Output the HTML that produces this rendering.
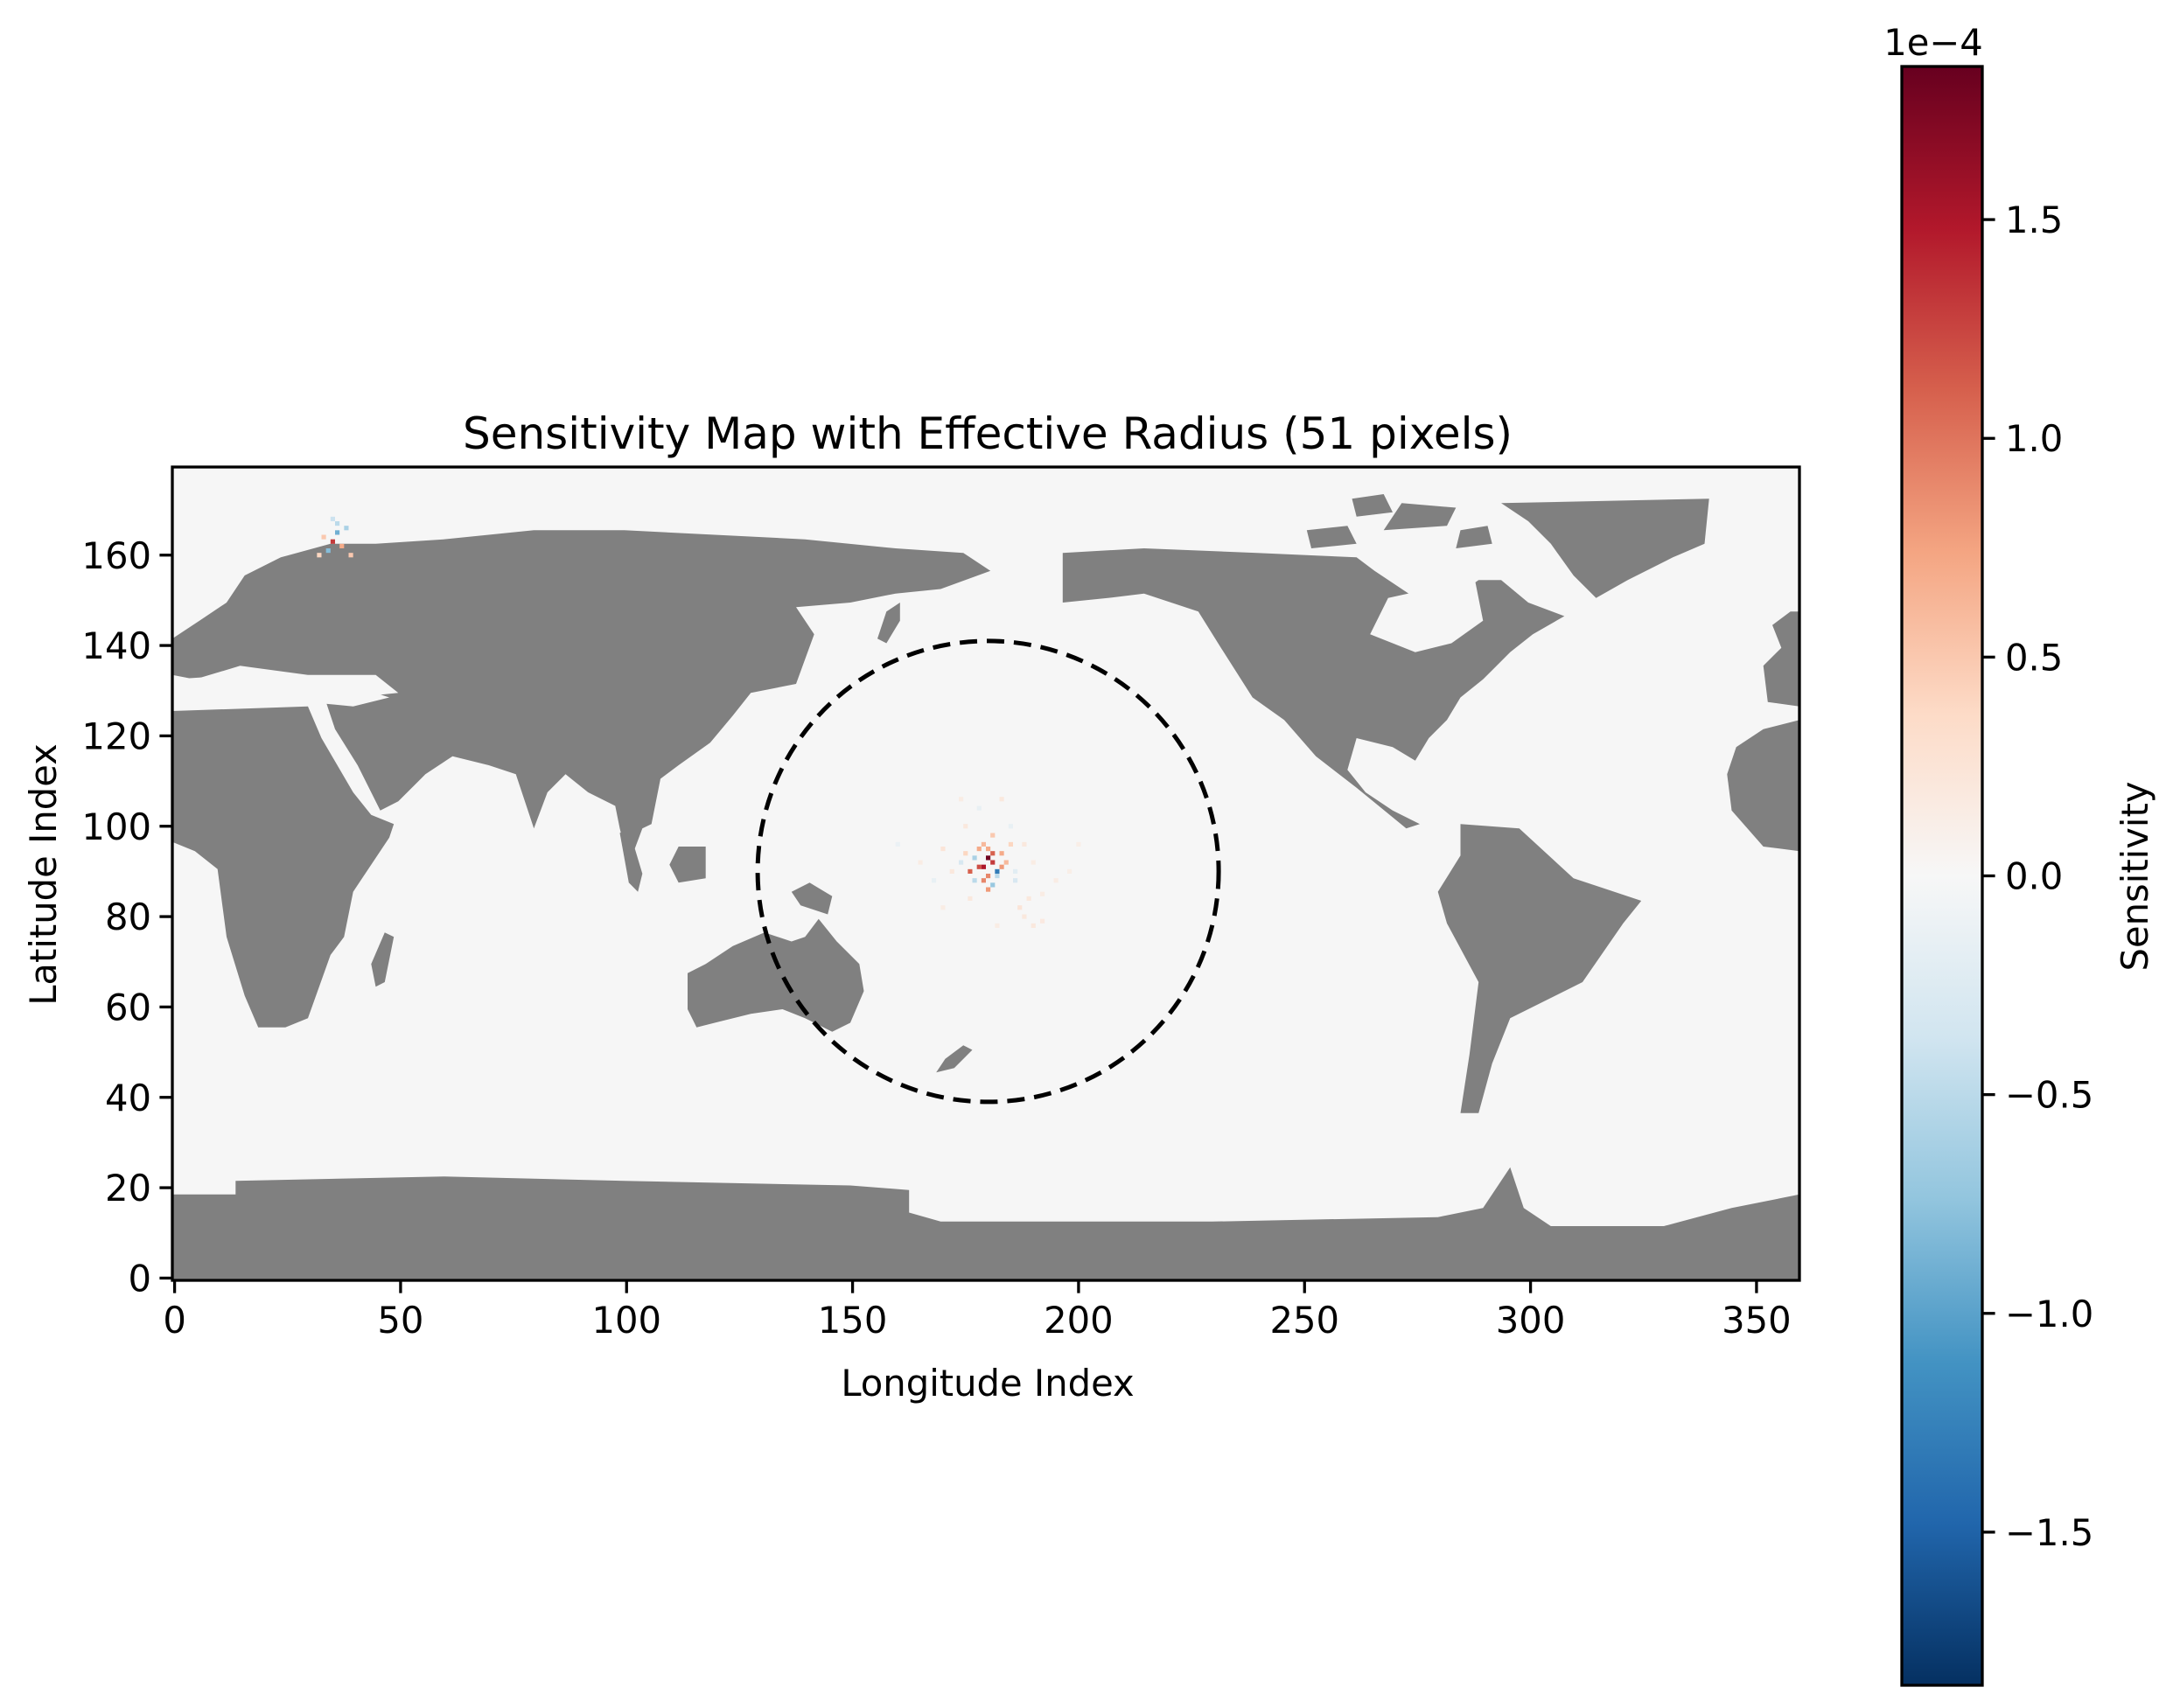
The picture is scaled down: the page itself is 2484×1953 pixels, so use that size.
<!DOCTYPE html>
<html><head><meta charset="utf-8"><style>
html,body{margin:0;padding:0;background:#fff}
svg{display:block}
text{font-family:"DejaVu Sans","Liberation Sans",sans-serif;fill:#000}
</style></head><body>
<svg id="fig" width="2484" height="1953" viewBox="0 0 2484 1953" xmlns="http://www.w3.org/2000/svg">
<defs>
<linearGradient id="cmap" x1="0" y1="0" x2="0" y2="1">
<stop offset="0" stop-color="#67001f"/><stop offset="0.1" stop-color="#b2182b"/><stop offset="0.2" stop-color="#d6604d"/><stop offset="0.3" stop-color="#f4a582"/><stop offset="0.4" stop-color="#fddbc7"/><stop offset="0.5" stop-color="#f7f7f7"/><stop offset="0.6" stop-color="#d1e5f0"/><stop offset="0.7" stop-color="#92c5de"/><stop offset="0.8" stop-color="#4393c3"/><stop offset="0.9" stop-color="#2166ac"/><stop offset="1" stop-color="#053061"/>
</linearGradient>
<clipPath id="plotclip"><rect x="197" y="534" width="1860" height="930"/></clipPath>
</defs>
<g id="plot" clip-path="url(#plotclip)"></g>
<g id="axes"></g>
<text x="1129" y="513" font-size="50" text-anchor="middle">Sensitivity Map with Effective Radius (51 pixels)</text>
<text x="1129" y="1596" font-size="41.7" text-anchor="middle">Longitude Index</text>
<text x="0" y="0" font-size="41.7" text-anchor="middle" transform="translate(64,1000) rotate(-90)">Latitude Index</text>
<rect x="2174" y="76" width="92" height="1851" fill="url(#cmap)"/>
<rect x="2174" y="76" width="92" height="1851" fill="none" stroke="#000" stroke-width="3.3"/>
<g id="cbar"></g>
<text x="2210" y="63" font-size="41.7" text-anchor="middle">1e−4</text>
<text x="0" y="0" font-size="41.7" text-anchor="middle" transform="translate(2455,1002) rotate(-90)">Sensitivity</text>
</svg>
<script>
const xTicks=[0,50,100,150,200,250,300,350];
const yTicks=[0,20,40,60,80,100,120,140,160];
const cbTicks=[-1.5,-1.0,-0.5,0.0,0.5,1.0,1.5];
const cbLabels=["−1.5","−1.0","−0.5","0.0","0.5","1.0","1.5"];
const vmax=1.85;
const circleCenter=[180,90];
const circleRadius=51;
const antarctica=[[0,0],[0,19],[14,19],[14,22],[60,23],[100,22],[150,21],[163,20],[163,15],[170,13],[230,13],[280,14],[290,16],[296,25],[299,16],[305,12],[330,12],[345,16],[360,19],[360,0]];
const africa=[[0,97],[0,126],[30,127],[33,120],[40,108],[44,103],[49,101],[48,98],[40,86],[38,76],[35,72],[30,58],[25,56],[19,56],[16,63],[12,76],[10,91],[5,95]];
const madagascar=[[44,70],[47,77],[49,76],[47,66],[45,65]];
const eurasia=[[0,134],[0,142],[6,146],[12,150],[16,156],[24,160],[35,163],[45,163],[60,164],[80,166],[100,166],[120,165],[140,164],[160,162],[175,161],[181,157],[170,153],[160,152],[150,150],[138,149],[142,143],[138,132],[128,130],[124,125],[119,119],[112,114],[108,111],[106,101],[104,100],[101,92],[99,100],[98,105],[92,108],[87,112],[83,108],[80,100],[76,112],[70,114],[62,116],[56,112],[50,106],[46,104],[41,114],[36,122],[34,128],[40,129],[50,130],[45,134],[30,134],[15,136],[5,133]];
const sumatra=[[99,99],[101,100],[104,90],[103,86],[101,88]];
const borneo=[[110,92],[112,96],[118,96],[118,89],[112,88]];
const newGuinea=[[137,86],[141,88],[146,85],[145,81],[139,83]];
const japan=[[156,142],[158,148],[161,150],[161,146],[158,141]];
const australia=[[114,60],[114,68],[118,70],[124,74],[131,77],[137,75],[140,76],[143,80],[147,75],[152,70],[153,64],[150,57],[146,55],[140,58],[135,60],[128,59],[120,57],[116,56]];
const newZealand=[[169,46],[171,49],[175,52],[177,51],[173,47]];
const northAmerica=[[197,150],[197,161],[215,162],[240,161],[262,160],[266,157],[275,151],[282,150],[289,155],[294,155],[300,150],[308,147],[301,143],[296,139],[290,133],[285,129],[282,124],[278,120],[275,115],[270,118],[262,120],[260,113],[264,108],[270,104],[276,101],[273,100],[262,109],[253,116],[246,124],[239,129],[232,140],[227,148],[215,152],[207,151]];
const archipelago1=[[252,162],[262,163],[260,167],[251,166]];
const archipelago2=[[268,166],[282,167],[284,171],[272,172]];
const archipelago3=[[262,169],[270,170],[268,174],[261,173]];
const archipelago4=[[284,162],[292,163],[291,167],[285,166]];
const greenland=[[294,172],[340,173],[339,163],[332,160],[322,155],[315,151],[310,156],[305,163],[300,168]];
const westAfrica=[[360,95],[352,96],[345,104],[344,112],[346,118],[352,122],[360,124]];
const westEurope=[[360,127],[353,128],[352,136],[356,140],[354,145],[358,148],[360,148]];
const southAmerica=[[285,101],[298,100],[310,89],[325,84],[321,79],[312,66],[296,58],[292,48],[289,37],[285,37],[287,50],[289,66],[282,79],[280,86],[285,94]];
const hudsonBay=[[265,143],[269,151],[278,153],[288,156],[290,146],[283,141],[275,139]];
const mediterranean=[[0,127],[0,133],[15,134],[30,133],[42,131],[48,129],[40,127],[30,128]];
const noiseLon=[180,181,179,182,178,180,181,183,177,179,182,180,176,184,178,181,179,183,180,177,185,175,186,174,181,188,190,187,192,189,35,36,34,37,38,33,36,32,39,35,170,172,168,175,185,188,190,195,165,178,183,176,186,192,198,170,160,200,182,174];
const noiseLat=[93,92,91,90,91,89,94,91,93,88,89,95,90,92,95,87,96,94,86,88,96,94,88,92,98,80,78,82,79,84,163,165,161,162,166,164,167,160,160,168,95,90,88,100,100,96,92,88,92,104,106,84,90,85,90,82,96,96,78,106];
const noiseVal=[1.8,1.3,1.5,-1.3,1.2,0.9,1.1,0.8,-0.6,0.9,-0.5,0.7,1.1,0.6,0.7,-0.7,0.6,0.7,0.8,-0.5,0.4,0.4,-0.3,-0.3,0.5,0.2,0.2,0.25,0.18,0.2,1.3,-0.9,-0.8,0.7,-0.6,0.5,-0.5,0.4,0.5,-0.4,0.25,0.2,-0.15,0.2,-0.15,0.2,0.15,0.15,0.15,-0.15,0.2,0.2,-0.2,0.15,0.12,0.15,-0.12,0.12,0.15,0.15];

const X0=197,Y0=1464,S=1860/360;
function xs(lon){return X0+lon*S;}
function ys(lat){return Y0-lat*S;}
const NS="http://www.w3.org/2000/svg";
const stops=["#053061","#2166ac","#4393c3","#92c5de","#d1e5f0","#f7f7f7","#fddbc7","#f4a582","#d6604d","#b2182b","#67001f"];
function hex(h){return [parseInt(h.substr(1,2),16),parseInt(h.substr(3,2),16),parseInt(h.substr(5,2),16)];}
function cmap(v){let t=(v/vmax+1)/2;t=Math.max(0,Math.min(1,t));const p=t*10;const i=Math.min(9,Math.floor(p));const f=p-i;const a=hex(stops[i]),b=hex(stops[i+1]);return "rgb("+a.map((c,k)=>Math.round(c+(b[k]-c)*f)).join(",")+")";}
const plot=document.getElementById('plot');
const bg=document.createElementNS(NS,'rect');
bg.setAttribute('x',X0);bg.setAttribute('y',534);bg.setAttribute('width',1860);bg.setAttribute('height',930);bg.setAttribute('fill','#f6f6f6');


plot.appendChild(bg);
function poly(pts,fill,name){const p=document.createElementNS(NS,'polygon');p.setAttribute('points',pts.map(q=>xs(q[0]).toFixed(1)+","+ys(q[1]).toFixed(1)).join(" "));p.setAttribute('fill',fill);


plot.appendChild(p);}
[[antarctica,'antarctica'],[africa,'africa'],[madagascar,'madagascar'],[eurasia,'eurasia'],[sumatra,'sumatra'],[borneo,'borneo'],[newGuinea,'new-guinea'],[japan,'japan'],[australia,'australia'],[newZealand,'new-zealand'],[northAmerica,'north-america'],[archipelago1,'arctic-island'],[archipelago2,'arctic-island'],[archipelago3,'arctic-island'],[archipelago4,'arctic-island'],[greenland,'greenland'],[westAfrica,'west-africa'],[westEurope,'west-europe'],[southAmerica,'south-america']].forEach(a=>poly(a[0],'#808080',a[1]+'-land'));
poly(hudsonBay,'#f6f6f6','hudson-bay');
poly(mediterranean,'#f6f6f6','mediterranean-sea');
for(let i=0;i<noiseVal.length;i++){const r=document.createElementNS(NS,'rect');r.setAttribute('x',xs(noiseLon[i]));r.setAttribute('y',ys(noiseLat[i]+1));r.setAttribute('width',S);r.setAttribute('height',S);r.setAttribute('fill',cmap(noiseVal[i]));


plot.appendChild(r);}
const c=document.createElementNS(NS,'circle');
c.setAttribute('cx',xs(circleCenter[0]+0.5));c.setAttribute('cy',ys(circleCenter[1]+0.5));c.setAttribute('r',circleRadius*S);c.setAttribute('fill','none');c.setAttribute('stroke','#000');c.setAttribute('stroke-width','5');c.setAttribute('stroke-dasharray','20 11');


plot.appendChild(c);
const axes=document.getElementById('axes');
const fr=document.createElementNS(NS,'rect');
fr.setAttribute('x',X0);fr.setAttribute('y',534);fr.setAttribute('width',1860);fr.setAttribute('height',930);fr.setAttribute('fill','none');fr.setAttribute('stroke','#000');fr.setAttribute('stroke-width','3.3');


axes.appendChild(fr);
function line(g,x1,y1,x2,y2,name){const l=document.createElementNS(NS,'line');l.setAttribute('x1',x1);l.setAttribute('y1',y1);l.setAttribute('x2',x2);l.setAttribute('y2',y2);l.setAttribute('stroke','#000');l.setAttribute('stroke-width','3.3');


g.appendChild(l);}
function txt(g,x,y,s,anchor,name){const t=document.createElementNS(NS,'text');t.setAttribute('x',x);t.setAttribute('y',y);t.setAttribute('font-size','41.7');t.setAttribute('text-anchor',anchor);t.textContent=s;


g.appendChild(t);}
xTicks.forEach(v=>{const x=xs(v+0.5);line(axes,x,Y0,x,Y0+14.6,'x-tick');txt(axes,x,Y0+60,String(v),'middle','x-tick-label');});
yTicks.forEach(v=>{const y=ys(v+0.5);line(axes,X0,y,X0-14.6,y,'y-tick');txt(axes,X0-24,y+15,String(v),'end','y-tick-label');});
const cb=document.getElementById('cbar');
const cbTop=76,cbBot=1927;
function cby(v){return cbTop+(vmax-v)/(2*vmax)*(cbBot-cbTop);}
cbTicks.forEach((v,i)=>{const y=cby(v);line(cb,2266,y,2280.6,y,'colorbar-tick');txt(cb,2292,y+15,cbLabels[i],'start','colorbar-tick-label');});
</script>
</body></html>
